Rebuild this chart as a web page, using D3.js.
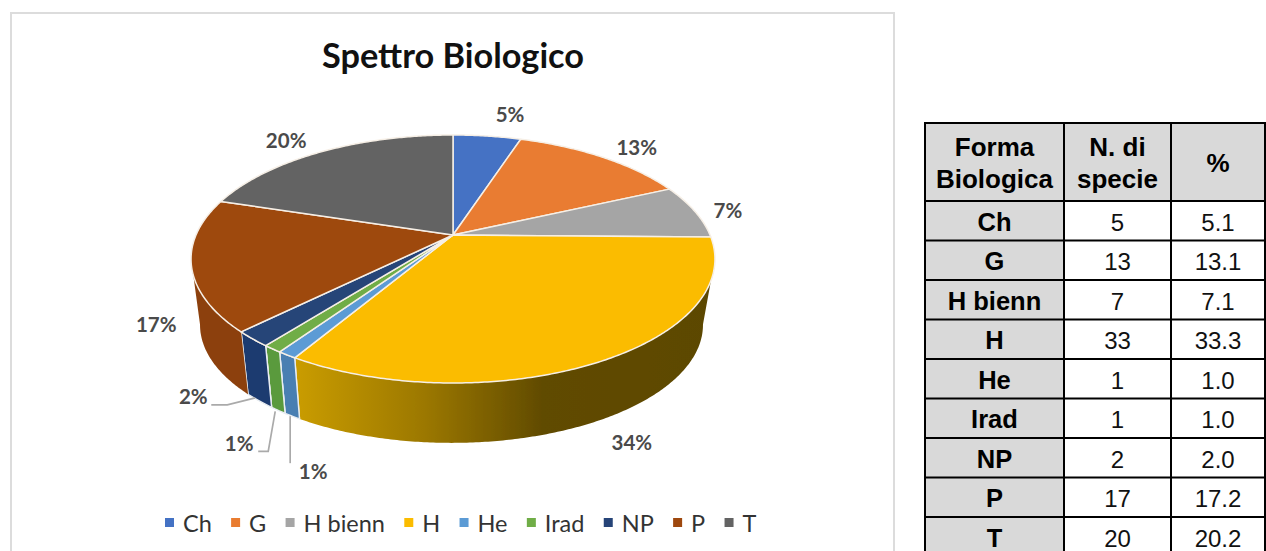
<!DOCTYPE html>
<html><head><meta charset="utf-8">
<script src="https://cdn.jsdelivr.net/npm/d3@7"></script>
<style>html,body{margin:0;padding:0;background:#fff;overflow:hidden}svg{display:block}</style>
</head><body><svg id="c" width="1266" height="551"></svg>
<script>
// ---- data ----
const categories = ["Ch","G","H bienn","H","He","Irad","NP","P","T"];
const counts = [5,13,7,33,1,1,2,17,20];
const percents = ["5.1","13.1","7.1","33.3","1.0","1.0","2.0","17.2","20.2"];
const chartLabels = ["5%","13%","7%","34%","1%","1%","2%","17%","20%"];
const tableHeaders = [["Forma","Biologica"],["N. di","specie"],["%"]];
const title = "Spettro Biologico";
// ---- styling / layout ----
const topColors = ["#4472c4","#e97c30","#a5a5a5","#fbbc00","#5b9bd5","#70ad47","#264478","#9e480e","#636363"];
const sideColors = {4:"#4a7fb2",5:"#5a9a3e",6:"#1d3a70",7:"#8c410c"};
const labelOffsets = [[23,-21],[34,-9],[33,0],[36,22],[21,56],[-39,34],[-66,-4],[-44,-5],[-35,-11]];
const chartFont = "Lato, 'Open Sans', sans-serif", tableFont = "'Liberation Sans', Arial, sans-serif";

const svg = d3.select("#c");
const defs = svg.append("defs");
defs.append("filter").attr("id","soft").attr("x","-5%").attr("y","-5%").attr("width","110%").attr("height","110%")
  .append("feGaussianBlur").attr("stdDeviation",0.45);
const g0 = defs.append("linearGradient").attr("id","hSide").attr("gradientUnits","userSpaceOnUse")
  .attr("x1",297).attr("x2",720).attr("y1",0).attr("y2",0);
[[0,"#c99c00"],[0.3,"#9c7800"],[0.58,"#614b00"],[1,"#5c4700"]].forEach(s=>g0.append("stop").attr("offset",s[0]).attr("stop-color",s[1]));

svg.append("rect").attr("x",11).attr("y",13).attr("width",883).attr("height",600)
  .attr("fill","#fff").attr("stroke","#dcdcdc").attr("stroke-width",2);

const chart = svg.append("g").attr("filter","url(#soft)");

// perspective projection of the pie disc
const cx=453, K=0.1935;
const spanX = d3.scaleLinear().domain([-1,1]).range([-257,257]);
const spanY = d3.scaleLinear().domain([-1,1]).range([119.35,-119.35]);
function project(theta,level){
  const u=Math.sin(theta), v=Math.cos(theta), w=1+K*v;
  return level===0 ? [cx+spanX(u)/w, 235+spanY(v)/w]
                   : [cx-1.5+0.96*spanX(u)/w, 302+0.952*spanY(v)/w];
}
const pie = d3.pie().sort(null)(counts);
const line = d3.line();
const arcPts=(a,b,level)=>{const n=Math.max(2,Math.ceil(Math.abs(b-a)/0.01));return d3.range(n+1).map(i=>project(a+(b-a)*i/n,level));};
const rad=d=>d*Math.PI/180, frontA=rad(101), frontB=rad(259);

// side walls
pie.forEach((d,i)=>{
  const a=Math.max(d.startAngle,frontA), b=Math.min(d.endAngle,frontB);
  if(a>=b) return;
  const pts=arcPts(a,b,0).concat(arcPts(b,a,1));
  const isH=i===3;
  chart.append("path").attr("d",line(pts)+"Z")
    .attr("fill",isH?"url(#hSide)":(sideColors[i]||topColors[i]))
    .attr("stroke",i===7||isH?"none":"#e8edf2").attr("stroke-width",1.4);
  chart.append("path").attr("d",line([project(b,0),project(b,1)]))
    .attr("stroke","#e8e8e8").attr("stroke-width",b<frontB?1.4:0).attr("fill","none");
});
// top face
pie.forEach((d,i)=>{
  const pts=[[cx,235]].concat(arcPts(d.startAngle,d.endAngle,0));
  chart.append("path").attr("d",line(pts)+"Z").attr("fill",topColors[i])
    .attr("stroke","#f6efe6").attr("stroke-width",1.5).attr("stroke-linejoin","round");
});

// data labels and leaders
const mid=d=>(d.startAngle+d.endAngle)/2;
const anchor=d=>{const m=mid(d);return project(m,(m>rad(101)&&m<rad(259))?1:0);};
const labelPos=pie.map((d,i)=>{const p=anchor(d);return [p[0]+labelOffsets[i][0],p[1]+labelOffsets[i][1]];});
const leaders=[
  {i:4,pts:(p,l)=>[[p[0]-2,p[1]],[p[0]-2,l[1]-9]]},
  {i:5,pts:(p,l)=>[[p[0]-3,p[1]+1],[p[0]-10,l[1]+7],[l[0]+19,l[1]+7]]},
  {i:6,pts:(p,l)=>[[p[0]-4,p[1]-3],[l[0]+34,l[1]+8],[l[0]+18,l[1]+8]]}
];
leaders.forEach(o=>{
  chart.append("path").attr("d",line(o.pts(anchor(pie[o.i]),labelPos[o.i])))
    .attr("fill","none").attr("stroke","#aaaaaa").attr("stroke-width",1.7);
});
svg.selectAll("text.lab").data(chartLabels).enter().append("text").attr("class","lab")
  .attr("x",(d,i)=>labelPos[i][0]).attr("y",(d,i)=>labelPos[i][1]+7)
  .attr("text-anchor","middle").attr("font-family",chartFont).attr("font-size",20.5).attr("font-weight",700)
  .attr("fill","#4a4a4a").text(d=>d);

// title
svg.append("text").attr("x",453).attr("y",68).attr("text-anchor","middle")
  .attr("font-family",chartFont).attr("font-weight",700).attr("font-size",34.3).attr("fill","#111").text(title);

// legend
const leg=svg.append("g");
const legText=categories.map(c=>leg.append("text").attr("y",531.5).attr("font-family",chartFont).attr("font-size",23.5).attr("fill","#333").text(c));
const widths=legText.map(t=>t.node().getComputedTextLength());
let x=165;
categories.forEach((c,i)=>{
  leg.append("rect").attr("x",x).attr("y",518).attr("width",9).attr("height",9).attr("fill",topColors[i]);
  legText[i].attr("x",x+18);
  x+=18+widths[i]+19.3;
});

// table
const colX=[925,1064,1171,1265], headTop=123, rowTop=201;
const rowY=d3.scaleLinear().domain([0,9]).range([rowTop,rowTop+9*39.5]);
const t=svg.append("g");
t.append("rect").attr("x",colX[0]).attr("y",headTop).attr("width",colX[1]-colX[0]).attr("height",520).attr("fill","#d9d9d9");
t.append("rect").attr("x",colX[1]).attr("y",headTop).attr("width",colX[3]-colX[1]).attr("height",rowTop-headTop).attr("fill","#d9d9d9");
const colC=[994.5,1117.5,1218];
tableHeaders.forEach((h,c)=>h.forEach((s,j)=>{
  t.append("text").attr("x",colC[c]).attr("y",h.length===1?172:156+j*32).attr("text-anchor","middle")
   .attr("font-family",tableFont).attr("font-weight",700).attr("font-size",26).attr("fill","#000").text(s);
}));
categories.forEach((c,i)=>{
  const y=rowY(i)+29.5;
  t.append("text").attr("x",colC[0]).attr("y",y).attr("text-anchor","middle").attr("font-family",tableFont).attr("font-weight",700).attr("font-size",25.5).text(c);
  t.append("text").attr("x",colC[1]).attr("y",y).attr("text-anchor","middle").attr("font-family",tableFont).attr("font-size",24).attr("fill","#111").text(counts[i]);
  t.append("text").attr("x",colC[2]).attr("y",y).attr("text-anchor","middle").attr("font-family",tableFont).attr("font-size",24).attr("fill","#111").text(percents[i]);
});
colX.forEach(xx=>t.append("line").attr("x1",xx).attr("x2",xx).attr("y1",headTop-1).attr("y2",551).attr("stroke","#000").attr("stroke-width",2));
[headTop].concat(d3.range(0,9).map(i=>rowY(i))).forEach(yy=>t.append("line").attr("x1",colX[0]).attr("x2",colX[3]).attr("y1",yy).attr("y2",yy).attr("stroke","#000").attr("stroke-width",2));
</script></body></html>
